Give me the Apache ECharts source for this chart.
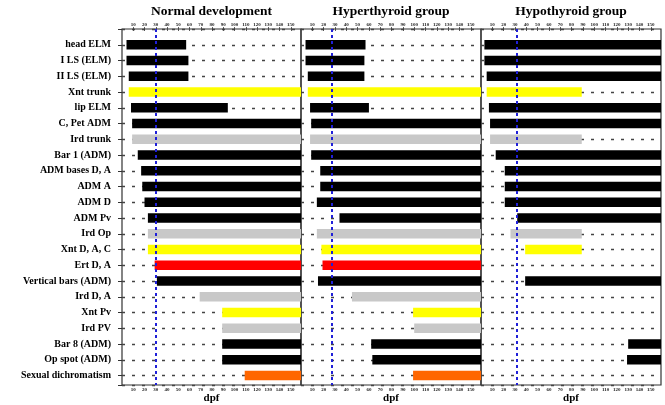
<!DOCTYPE html>
<html>
<head>
<meta charset="utf-8">
<script src="https://cdn.jsdelivr.net/npm/echarts@6/dist/echarts.min.js"></script>
<style>html,body{margin:0;padding:0;background:#fff}#c{width:665px;height:405px}</style>
</head>
<body>
<div id="c"></div>
<script>
const categories = ['head ELM','I LS (ELM)','II LS (ELM)','Xnt trunk','lip ELM','C, Pet ADM','Ird trunk','Bar 1 (ADM)','ADM bases D, A','ADM A','ADM D','ADM Pv','Ird Op','Xnt D, A, C','Ert D, A','Vertical bars (ADM)','Ird D, A','Xnt Pv','Ird PV','Bar 8 (ADM)','Op spot (ADM)','Sexual dichromatism'];
const rowColors = ['black','black','black','yellow','black','black','grey','black','black','black','black','black','grey','yellow','red','black','grey','yellow','grey','black','black','orange'];
const panelTitles = ['Normal development','Hyperthyroid group','Hypothyroid group'];
const xTickLabels = [10,20,30,40,50,60,70,80,90,100,110,120,130,140,150];
const F = 160;
const normalStart = [4,4,6,6,8,9,9,14,17,18,20,23,23,23,29,31,69,89,89,89,89,109];
const normalEnd   = [57,59,59,F,94,F,F,F,F,F,F,F,F,F,F,F,F,F,F,F,F,F];
const hyperStart  = [4,4,6,6,8,9,8,9,17,17,14,34,14,18,19,15,45,99,100,62,63,99];
const hyperEnd    = [57,56,56,F,60,F,F,F,F,F,F,F,F,F,F,F,F,F,F,F,F,F];
const hypoStart   = [3,3,5,5,7,8,8,13,21,21,21,32,26,39,null,39,null,null,null,130,129,null];
const hypoEnd     = [F,F,F,89,F,F,89,F,F,F,F,F,89,89,null,F,null,null,null,F,F,null];
const blueLines = [30,27,32];

const palette = {black:'#000000', yellow:'#ffff00', grey:'#c8c8c8', red:'#ff0000', orange:'#ff6600'};
const starts = [normalStart, hyperStart, hypoStart];
const ends = [normalEnd, hyperEnd, hypoEnd];
const gridPos = [{left:122,width:179},{left:301,width:180},{left:481,width:180}];
const FONT = 'Liberation Serif';

function renderItem(params, api) {
  const y = api.value(0), s = api.value(1), e = api.value(2);
  const p1 = api.coord([s, y]);
  const p2 = api.coord([e, y]);
  const h = api.size([0, 1])[1] * 0.6;
  const rect = echarts.graphic.clipRectByRect(
    {x: p1[0], y: p1[1] - h/2, width: p2[0] - p1[0], height: h},
    {x: params.coordSys.x, y: params.coordSys.y, width: params.coordSys.width, height: params.coordSys.height});
  if (!rect) return;
  return {type:'rect', shape: rect, style: {fill: api.visual('color')}};
}

const grids = [], xAxes = [], yAxes = [], series = [];
for (let i = 0; i < 3; i++) {
  grids.push({left: gridPos[i].left, width: gridPos[i].width, top: 29, height: 356,
    outerBoundsMode: 'none', containLabel: false,
    show: true, borderColor: '#333', borderWidth: 1.2, backgroundColor: 'transparent'});
  const common = {
    type: 'value', gridIndex: i, min: 0, max: 159, interval: 10,
    axisLine: {show: false}, splitLine: {show: false},
    axisTick: {show: true, length: 2, lineStyle: {color: '#333', width: 0.8}},
    axisLabel: {fontFamily: FONT, fontWeight: 'bold', fontSize: 5, color: '#222', margin: 2,
      showMinLabel: false, showMaxLabel: false,
      formatter: v => (xTickLabels.indexOf(v) >= 0 ? String(v) : '')},
    nameMoveOverlap: false
  };
  xAxes.push(Object.assign({}, common, {position: 'bottom',
    name: 'dpf', nameLocation: 'middle', nameGap: 8,
    nameTextStyle: {fontFamily: FONT, fontWeight: 'bold', fontSize: 11, color: '#000', verticalAlign: 'top'}}));
  xAxes.push(Object.assign({}, common, {position: 'top',
    name: panelTitles[i], nameLocation: 'middle', nameGap: 10,
    nameTextStyle: {fontFamily: FONT, fontWeight: 'bold', fontSize: 13.5, color: '#000', verticalAlign: 'bottom'}}));
  yAxes.push({
    type: 'value', gridIndex: i, inverse: true, min: 0, max: 22.6, interval: 1,
    offset: i === 0 ? 5 : 0,
    axisLine: {show: false},
    axisTick: {show: i === 0, length: 4, lineStyle: {color: '#333', width: 1}},
    axisLabel: {show: i === 0, fontFamily: FONT, fontWeight: 'bold', fontSize: 10, color: '#000', margin: 6,
      formatter: v => (Number.isInteger(v) && v >= 1 && v <= categories.length ? categories[v-1] : '')},
    splitLine: {show: true, lineStyle: {color: '#444', width: 1.3, type: [3, 7]}}
  });
  const data = [];
  for (let r = 0; r < categories.length; r++) {
    if (starts[i][r] == null) continue;
    data.push({value: [r + 1, starts[i][r], ends[i][r]], itemStyle: {color: palette[rowColors[r]]}});
  }
  series.push({
    type: 'custom', xAxisIndex: 2*i, yAxisIndex: i, renderItem: renderItem, clip: true,
    encode: {x: [1, 2], y: 0}, data: data, silent: true,
    markLine: {silent: true, symbol: 'none', label: {show: false}, animation: false,
      lineStyle: {color: '#2020d8', type: [3, 3], width: 2}, data: [{xAxis: blueLines[i]}]}
  });
}

const chart = echarts.init(document.getElementById('c'), null, {renderer: 'canvas'});
chart.setOption({animation: false, backgroundColor: '#fff', grid: grids, xAxis: xAxes, yAxis: yAxes, series: series});
</script>
</body>
</html>
